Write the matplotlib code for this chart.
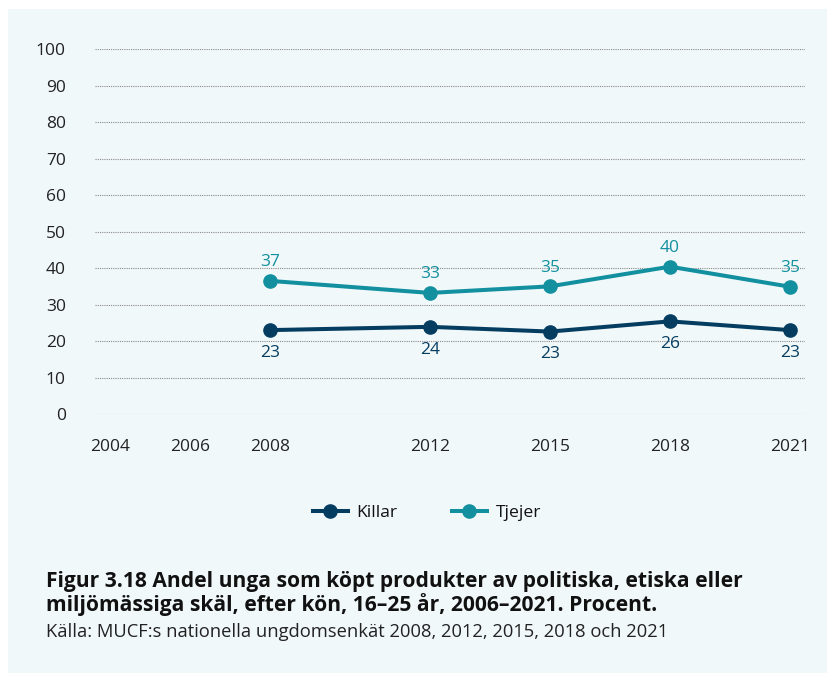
import matplotlib
matplotlib.use("Agg")
import matplotlib.pyplot as plt
from matplotlib.patches import Rectangle

plt.rcParams['font.family'] = ['Open Sans', 'Noto Sans', 'DejaVu Sans']

## data
years = [2008, 2012, 2015, 2018, 2021]
xticks = [2004, 2006, 2008, 2012, 2015, 2018, 2021]
killar = [23.0, 23.9, 22.6, 25.4, 23.0]
tjejer = [36.5, 33.2, 35.0, 40.4, 34.9]
killar_labels = [23, 24, 23, 26, 23]
tjejer_labels = [37, 33, 35, 40, 35]

title_lines = ["Figur 3.18 Andel unga som köpt produkter av politiska, etiska eller",
               "miljömässiga skäl, efter kön, 16–25 år, 2006–2021. Procent."]
source = "Källa: MUCF:s nationella ungdomsenkät 2008, 2012, 2015, 2018 och 2021"

c_k = '#053d61'
c_t = '#13909f'
bg = '#f1f8fa'
W, H = 828, 673

fig = plt.figure(figsize=(W/100, H/100), dpi=100)
fig.patches.append(Rectangle((8/W, 0), 1, 1 - 9/H, transform=fig.transFigure,
                             facecolor=bg, edgecolor='none', zorder=-10))

ax = fig.add_axes([95/W, 1 - 414/H, 710/W, (414 - 49.3)/H])
ax.set_facecolor('none')
ax.set_zorder(5)
ax.set_xlim(2003.625, 2021.375)
ax.set_ylim(0, 100)
for s in ax.spines.values():
    s.set_visible(False)
ax.set_yticks(range(0, 101, 10))
ax.set_xticks(xticks)
ax.tick_params(length=0, labelsize=12.5, labelcolor='#222222')
ax.tick_params(axis='y', pad=21)
ax.tick_params(axis='x', pad=18)
ax.grid(axis='y', color='#8a8a8a', linestyle=(0, (1, 1)), linewidth=0.8)
ax.set_axisbelow(True)

ax.plot(years, killar, color=c_k, lw=2.9, marker='o', ms=9.5, label='Killar', clip_on=False)
ax.plot(years, tjejer, color=c_t, lw=2.9, marker='o', ms=9.5, label='Tjejer', clip_on=False)

for x, y, l in zip(years, killar, killar_labels):
    ax.annotate(str(l), (x, y), xytext=(0, -16.5), textcoords='offset points',
                ha='center', va='center', fontsize=12.5, color=c_k)
for x, y, l in zip(years, tjejer, tjejer_labels):
    ax.annotate(str(l), (x, y), xytext=(0, 13.5), textcoords='offset points',
                ha='center', va='center', fontsize=12.5, color=c_t)

fig.legend(loc='center', bbox_to_anchor=(427/W, 1 - 513/H), ncol=2, frameon=False,
           fontsize=12.6, handlelength=2.0, columnspacing=3.1, handletextpad=0.5,
           labelcolor='#111111')

for i, line in enumerate(title_lines):
    fig.text(46/W, 1 - (582 + 23*i)/H, line, fontsize=15.1, fontweight='bold',
             color='#111111', va='center', ha='left')
fig.text(46/W, 1 - 632/H, source, fontsize=13.2, color='#222222', va='center', ha='left')

fig.savefig('out.png', dpi=100, facecolor='white')
